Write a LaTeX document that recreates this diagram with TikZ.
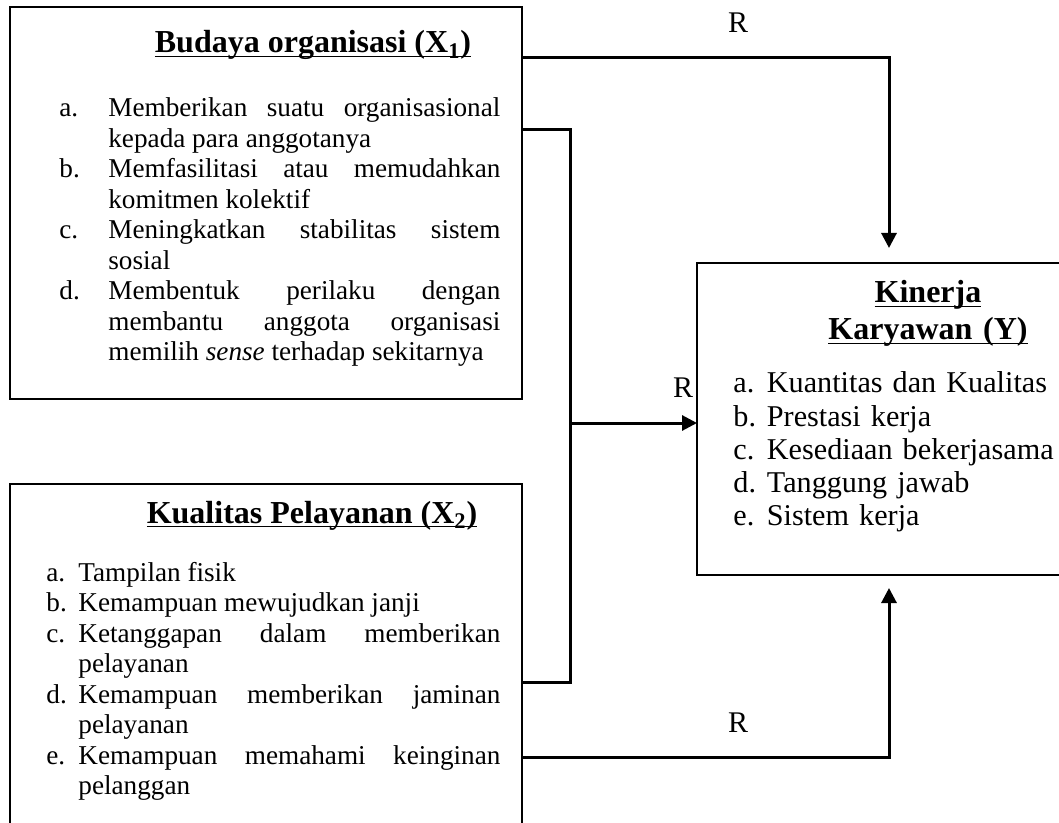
\documentclass[tikz,border=0pt]{standalone}
\usepackage{fontspec}
\setmainfont{Liberation Serif}
\usepackage{tikz}
\usetikzlibrary{arrows.meta}

\tolerance=10000
\hbadness=10000
\hyphenpenalty=10000
\newcommand{\butir}[3]{\noindent\hangindent=#1\hangafter=1\makebox[#1][l]{#2}\ignorespaces#3\par}
\newcommand{\garisbawah}[1]{\leavevmode\setbox0=\hbox{#1}\rlap{\rule[-2.2pt]{\wd0}{0.9pt}}\box0}

\begin{document}
\begin{tikzpicture}[
    x=0.5pt, y=-0.5pt,
    kotak/.style={draw, line width=0.6pt, inner sep=0pt, outer sep=0pt},
    judul/.style={inner sep=0pt, anchor=base, align=center,
        font=\fontsize{16}{18.5}\selectfont\bfseries},
    isi/.style={inner sep=0pt, anchor=base west, align=justify,
        font=\fontsize{13.6}{15.25}\selectfont},
    label/.style={inner sep=0pt, anchor=base, font=\fontsize{15}{18}\selectfont},
    garis/.style={line width=1.5pt},
    panah/.style={-{Triangle[length=7.5pt, width=7.5pt]}, line width=1.5pt}
]
    \clip (0,0) rectangle (1059,823);

    \node[kotak, minimum width=256pt, minimum height=196pt] (budaya) at (266,203) {};
    \node[kotak, minimum width=256pt, minimum height=178pt] (pelayanan) at (266,662) {};
    \node[kotak, minimum width=192pt, minimum height=156pt] (kinerja) at (889,419) {};

    \node[judul] (judulbudaya) at (313,53) {\garisbawah{Budaya organisasi (X\textsubscript{1})}};
    \node[isi, text width=220.5pt] (isibudaya) at (59,117) {%
        \butir{24.5pt}{a.}{Memberikan suatu organisasional\linebreak kepada para anggotanya}
        \butir{24.5pt}{b.}{Memfasilitasi atau memudahkan\linebreak komitmen kolektif}
        \butir{24.5pt}{c.}{Meningkatkan stabilitas sistem\linebreak sosial}
        \butir{24.5pt}{d.}{Membentuk perilaku dengan\linebreak membantu anggota organisasi\linebreak memilih \textit{sense} terhadap sekitarnya}};

    \node[judul] (judulpelayanan) at (312,523) {\garisbawah{Kualitas Pelayanan (X\textsubscript{2})}};
    \node[isi, text width=227pt] (isipelayanan) at (46,581) {%
        \butir{16pt}{a.}{Tampilan fisik}
        \butir{16pt}{b.}{Kemampuan mewujudkan janji}
        \butir{16pt}{c.}{Ketanggapan dalam memberikan\linebreak pelayanan}
        \butir{16pt}{d.}{Kemampuan memberikan jaminan\linebreak pelayanan}
        \butir{16pt}{e.}{Kemampuan memahami keinginan\linebreak pelanggan}};

    \node[judul, text width=150pt] (judulkinerja) at (928,303) {\garisbawah{Kinerja}\\\garisbawah{Karyawan (Y)}};
    \node[isi, align=left, text width=170pt, font=\fontsize{15.1}{16.6}\selectfont] (isikinerja) at (733,393) {%
        \butir{16.75pt}{a.}{Kuantitas dan Kualitas}
        \butir{16.75pt}{b.}{Prestasi kerja}
        \butir{16.75pt}{c.}{Kesediaan bekerjasama}
        \butir{16.75pt}{d.}{Tanggung jawab}
        \butir{16.75pt}{e.}{Sistem kerja}};

    \node[label] (r1) at (738,33) {R};
    \node[label] (r2) at (683,397) {R};
    \node[label] (r3) at (738,732) {R};

    \coordinate (cabang) at (570,423);
    \draw[panah] (budaya.east |- 0,58) -| ([yshift=7.5pt]kinerja.north);
    \draw[garis] (budaya.east |- 0,130) -| (cabang) -- (cabang |- 0,682) -- (pelayanan.east |- 0,682);
    \draw[panah] (cabang) -- (cabang -| kinerja.west);
    \draw[panah] (pelayanan.east |- 0,757) -| ([yshift=-6.5pt]kinerja.south);
\end{tikzpicture}
\end{document}
